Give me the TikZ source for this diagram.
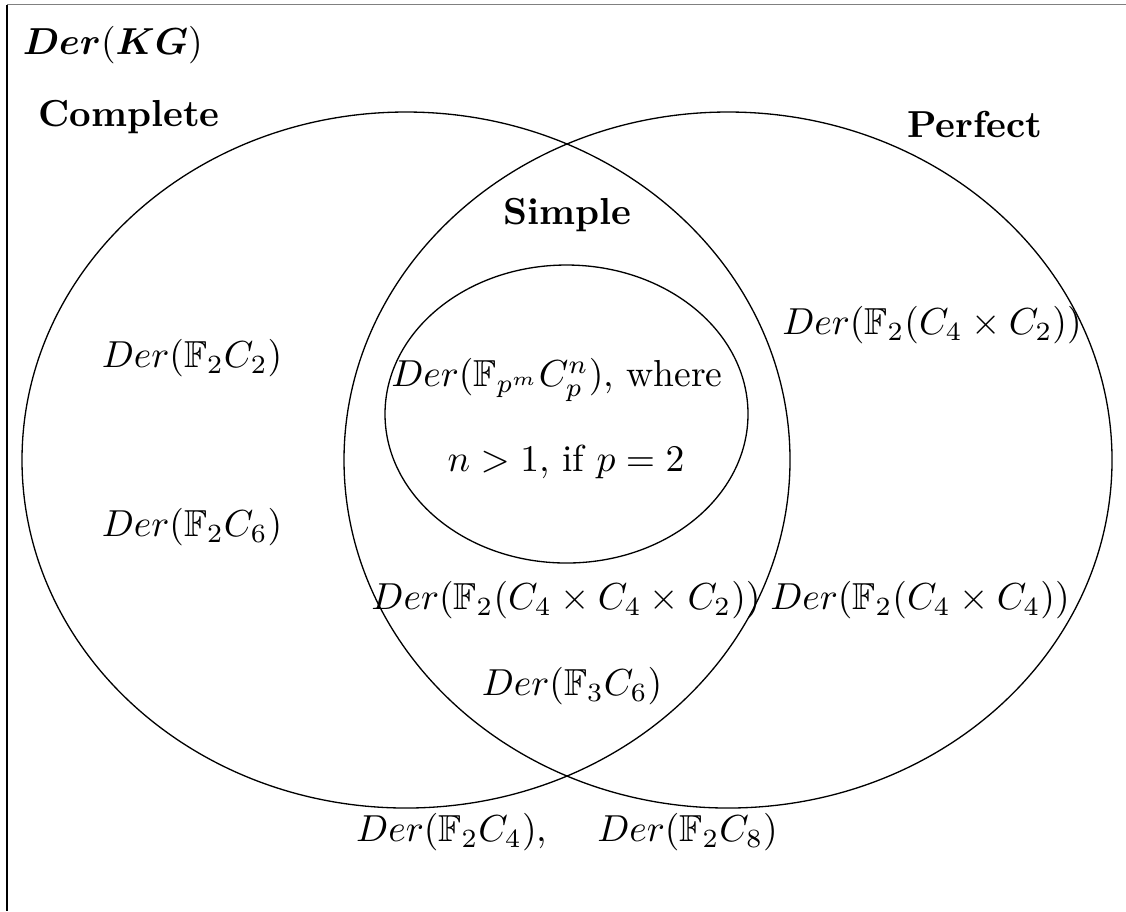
\documentclass[tikz,border=0pt]{standalone}
\usepackage{amsmath,amssymb}
\begin{document}
\begin{tikzpicture}[x=0.266pt,y=-0.266pt,
  lbl/.style={inner sep=0pt},
  setline/.style={line width=0.35pt}]
\useasboundingbox (0,0) rectangle (1126,911);
% frame
\coordinate (tl) at (7,4.5);
\coordinate (tr) at (1126,4.5);
\coordinate (bl) at (7,911);
\draw[gray, line width=0.45pt] (tl) -- (tr);
\draw[black, line width=0.35pt] (tl) -- (bl);
% sets
\draw[setline] (406,460) ellipse [x radius=384, y radius=348];
\draw[setline] (728,460) ellipse [x radius=384, y radius=348];
\draw[setline] (566.5,414) ellipse [x radius=181.5, y radius=149];
% labels
\node[lbl, anchor=west] (title) at (22,45) {$\boldsymbol{Der}(\boldsymbol{KG})$};
\node[lbl] (complete) at (129,117) {\textbf{Complete}};
\node[lbl] (perfect) at (975,124) {\textbf{Perfect}};
\node[lbl] (simple) at (567,215) {\textbf{Simple}};
\node[lbl] (c4c2) at (932,325) {$Der(\mathbb{F}_2(C_4\times C_2))$};
\node[lbl] (c2) at (192,358) {$Der(\mathbb{F}_2C_2)$};
\node[lbl] (gen1) at (557,380) {$Der(\mathbb{F}_{p^m}C_p^n)$, where};
\node[lbl] (gen2) at (566,462) {$n>1$, if $p=2$};
\node[lbl] (c6) at (192,527) {$Der(\mathbb{F}_2C_6)$};
\node[lbl] (c442) at (566,600) {$Der(\mathbb{F}_2(C_4\times C_4\times C_2))$};
\node[lbl] (c44) at (920,600) {$Der(\mathbb{F}_2(C_4\times C_4))$};
\node[lbl] (f3c6) at (572,686) {$Der(\mathbb{F}_3C_6)$};
\node[lbl] (c4c8) at (567,832) {$Der(\mathbb{F}_2C_4)$, \quad $Der(\mathbb{F}_2C_8)$};
\end{tikzpicture}
\end{document}
